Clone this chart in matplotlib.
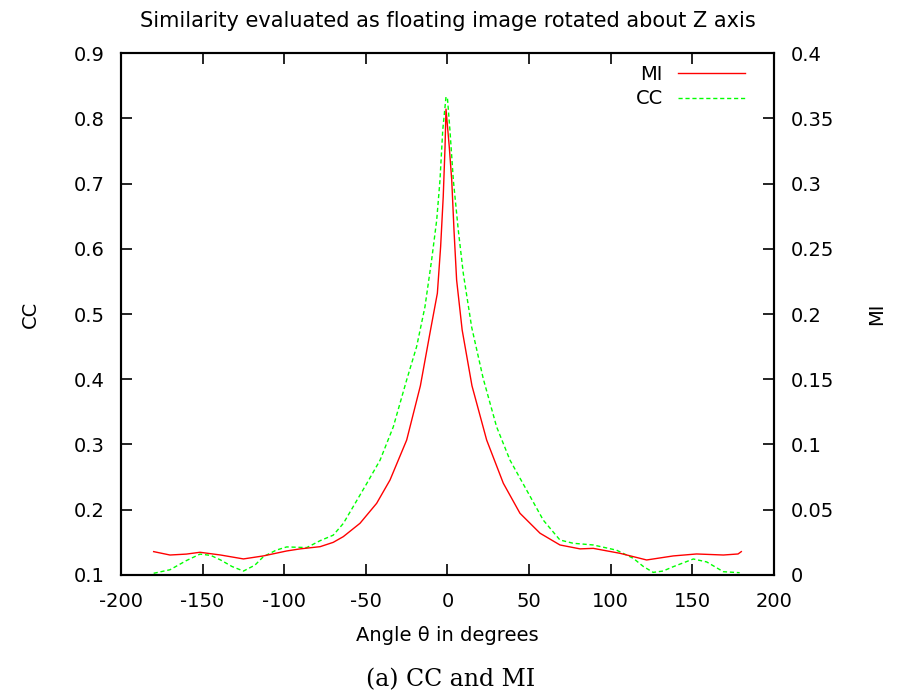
import matplotlib.pyplot as plt
import numpy as np

plt.rcParams['font.family'] = ['DejaVu Sans']
plt.rcParams['axes.unicode_minus'] = False

# CC values (left axis)
cc_angle = [-180, -170, -160, -151.6, -145, -139, -132, -125, -118, -112.8, -105, -98.5,
            -86.2, -78, -70, -63.8, -57.7, -49.5, -41.3, -33.2, -25, -18.9, -13.8, -9.7,
            -6.6, -4.6, -2.9, -0.9, 0, 1.5, 3.6, 6.6, 9.7, 14.8, 21.9, 30.1, 38.3, 48.5,
            58.7, 68.9, 77, 89.3, 103.6, 113.8, 120, 126, 132, 138.3, 150.6, 158.8, 169, 179]
cc_value = [0.1026, 0.108, 0.122, 0.132, 0.130, 0.123, 0.113, 0.106, 0.115, 0.128, 0.138, 0.143,
            0.142, 0.1526, 0.161, 0.179, 0.205, 0.24, 0.276, 0.327, 0.399, 0.45, 0.511, 0.583,
            0.644, 0.705, 0.782, 0.833, 0.83, 0.782, 0.705, 0.629, 0.562, 0.48, 0.401, 0.327, 0.276, 0.23,
            0.184, 0.1536, 0.1486, 0.146, 0.138, 0.1256, 0.113, 0.104, 0.106, 0.1127, 0.1245, 0.12, 0.105, 0.1035]

# MI values (right axis)
mi_angle = [-180, -170, -160, -151.6, -139, -125, -112.8, -98.5, -90.3, -78, -70, -63.8,
            -53.6, -43.4, -35.2, -25, -16.6, -10.5, -6.2, -4.2, -2.6, -1.5, -0.9, 1.1,
            2.6, 4, 5.6, 9, 15, 24, 34.2, 44.4, 56.7, 68.9, 81.2, 89.3, 105.7, 122,
            138.3, 152.6, 169, 178, 180]
mi_value = [0.0179, 0.0153, 0.016, 0.0174, 0.0153, 0.0123, 0.0146, 0.0184, 0.02, 0.0217, 0.025, 0.0294,
            0.0396, 0.0549, 0.0728, 0.1034, 0.145, 0.187, 0.2159, 0.2516, 0.29, 0.328, 0.357, 0.328,
            0.3027, 0.264, 0.226, 0.1877, 0.145, 0.1034, 0.0703, 0.0473, 0.032, 0.023, 0.02, 0.0204, 0.0166, 0.0115,
            0.0146, 0.0161, 0.0153, 0.0161, 0.0179]

fig = plt.figure(figsize=(9.01, 6.94), dpi=100)
ax = fig.add_axes([0.1343, 0.1715, 0.7247, 0.7521])
ax2 = ax.twinx()

l_cc, = ax.plot(cc_angle, cc_value, color='#00ff00', linestyle=(0, (3, 2)), linewidth=1, label='CC')
l_mi, = ax2.plot(mi_angle, mi_value, color='#ff0000', linewidth=1, label='MI')

ax.set_xlim(-200, 200)
ax.set_ylim(0.1, 0.9)
ax2.set_ylim(0, 0.4)
ax.set_xticks(np.arange(-200, 201, 50))
ax.set_yticks(np.arange(0.1, 0.91, 0.1))
ax.set_yticklabels(['0.1', '0.2', '0.3', '0.4', '0.5', '0.6', '0.7', '0.8', '0.9'])
ax2.set_yticks(np.arange(0, 0.41, 0.05))
ax2.set_yticklabels(['0', '0.05', '0.1', '0.15', '0.2', '0.25', '0.3', '0.35', '0.4'])

ax.tick_params(axis='x', direction='in', top=True, length=8, width=1.2, labelsize=14, pad=12)
ax.tick_params(axis='y', direction='in', right=False, length=8, width=1.2, labelsize=14, pad=12)
ax2.tick_params(axis='y', direction='in', length=8, width=1.2, labelsize=14, pad=12)
for a in (ax, ax2):
    for s in a.spines.values():
        s.set_linewidth(1.5)

ax.set_title('Similarity evaluated as floating image rotated about Z axis', fontsize=15, pad=19)
ax.set_xlabel('Angle θ in degrees', fontsize=14, labelpad=11)
ax.set_ylabel('CC', fontsize=14, labelpad=24)
ax2.set_ylabel('MI', fontsize=14, labelpad=24)

ax2.legend([l_mi, l_cc], ['MI', 'CC'], loc='upper right', bbox_to_anchor=(0.955, 0.978),
           frameon=False, markerfirst=False, fontsize=14, handlelength=3.4,
           labelspacing=0.3, handletextpad=0.8, borderpad=0, borderaxespad=0)

fig.text(0.5, 0.0202, '(a) CC and MI', ha='center', va='center', fontsize=17,
         family=['DejaVu Serif'])

fig.savefig('out.png', dpi=100)
